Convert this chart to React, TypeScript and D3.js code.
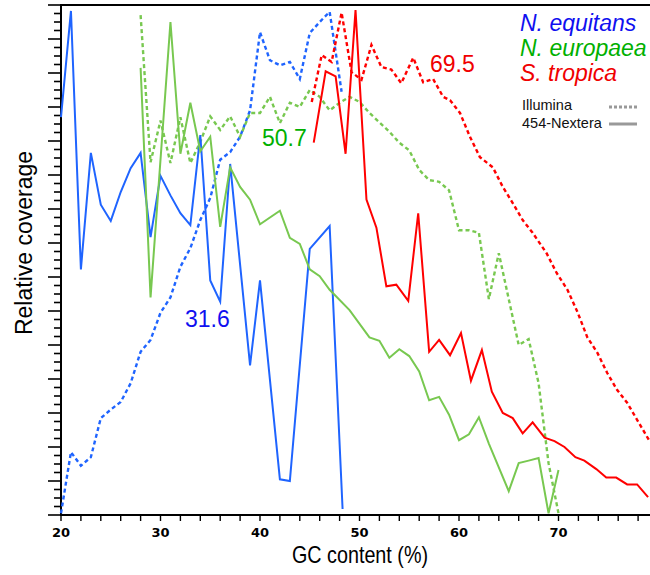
import React from "react";
import * as d3 from "d3";

// ---- data (x = GC content %, y = relative coverage, arbitrary units 0–60) ----
const eqNexGC = [20, 21, 22, 23, 24, 25, 26, 27, 28, 29, 30, 31, 32, 33, 34, 35, 36, 37, 39, 40, 42, 43, 45, 47, 48.3];
const eqNexCov = [46.8, 59.3, 28.9, 42.6, 36.5, 34.6, 38.0, 40.8, 42.6, 32.7, 39.9, 37.6, 35.5, 34.1, 44.7, 27.6, 25.1, 41.3, 17.6, 27.6, 4.2, 4.0, 31.3, 34.0, 0.7];

const eqIllGC = [20, 21, 22, 23, 24, 25, 26, 27, 28, 29, 30, 31, 32, 33, 34, 35, 36, 37, 38, 39, 40, 41, 42, 43, 44, 45, 46, 47, 48.2];
const eqIllCov = [0.2, 7.4, 5.8, 6.8, 11.4, 12.4, 13.3, 15.5, 19.2, 20.6, 23.8, 25.6, 29.2, 31.4, 34.7, 37.3, 41.8, 42.7, 44.5, 47.6, 56.8, 53.5, 52.9, 53.3, 51.3, 56.7, 58.0, 59.2, 49.8];

const euNexGC = [28, 29, 31, 32, 33, 34, 35, 36, 37, 38, 39, 40, 42, 43, 44, 45, 46, 47, 49, 51, 52, 53, 54, 55, 56, 57, 58, 59, 60, 61, 62, 63, 65, 66, 67, 68, 69, 70];
const euNexCov = [52.6, 25.6, 58.0, 42.5, 48.5, 42.8, 44.5, 33.9, 40.9, 38.6, 37.1, 34.2, 35.8, 32.6, 31.9, 28.9, 28.1, 26.5, 24.1, 20.9, 20.5, 18.5, 19.5, 18.7, 16.9, 13.5, 13.9, 11.8, 8.8, 9.5, 11.5, 8.4, 2.8, 6.1, 6.4, 6.7, 0.2, 5.3];

const euIllGC = [28, 29, 30, 31, 32, 33, 34, 35, 36, 37, 38, 39, 40, 41, 42, 43, 44, 45, 46, 47, 48, 49, 50, 51, 52, 53, 54, 55, 56, 57, 58, 59, 60, 61, 62, 63, 64, 66, 67, 68, 69, 70];
const euIllCov = [58.8, 41.5, 46.4, 41.4, 46.8, 41.4, 43.9, 46.9, 45.3, 46.9, 44.5, 47.3, 47.3, 49.2, 46.1, 48.5, 48.0, 50.0, 49.2, 47.6, 48.5, 49.2, 48.6, 47.3, 46.2, 45.1, 43.8, 42.9, 40.6, 39.4, 39.2, 38.2, 33.5, 33.5, 33.2, 25.4, 30.8, 20.0, 20.7, 15.5, 6.1, 0.2];

const trNexGC = [45.4, 46.6, 47.6, 48.6, 49.6, 50.7, 51.7, 52.7, 53.7, 54.9, 55.9, 57.0, 58.0, 59.1, 60.2, 61.2, 62.3, 63.3, 64.4, 65.4, 66.4, 67.4, 68.6, 69.6, 70.6, 71.7, 72.6, 73.8, 74.8, 75.8, 76.9, 77.9, 79.0];
const trNexCov = [43.8, 52.2, 51.6, 42.5, 59.4, 37.1, 33.8, 26.9, 27.1, 25.2, 35.5, 19.2, 20.6, 18.8, 21.4, 15.8, 19.4, 14.5, 12.0, 11.4, 9.6, 10.9, 9.1, 8.7, 8.0, 6.8, 6.4, 5.4, 4.4, 4.4, 3.6, 3.6, 2.1];

const trIllGC = [45.2, 46.2, 47.2, 48.2, 49.2, 50.2, 51.2, 52.2, 53.2, 54.2, 55.4, 56.4, 57.4, 58.4, 59.1, 60.1, 61.1, 62.1, 63.4, 64.4, 65.4, 66.4, 67.4, 68.8, 69.8, 70.9, 71.9, 72.9, 73.9, 74.9, 75.9, 76.9, 77.9, 79.1];
const trIllCov = [48.6, 54.1, 53.3, 59.1, 52.1, 51.2, 55.3, 52.7, 52.4, 50.8, 53.8, 50.9, 51.3, 49.2, 48.8, 47.3, 44.5, 42.1, 40.9, 38.6, 36.7, 34.7, 33.2, 30.8, 28.5, 26.5, 23.9, 20.9, 19.1, 16.7, 14.7, 13.2, 11.2, 8.8];

const xTickLabels = [20, 30, 40, 50, 60, 70];
const speciesNames = ["N. equitans", "N. europaea", "S. tropica"];
const platformNames = ["Illumina", "454-Nextera"];
const peakLabels = ["31.6", "50.7", "69.5"];

// ---- styling ----
const W = 650;
const H = 575;
const lineBlue = "#1f64ff";
const lineGreen = "#78c850";
const lineRed = "#ff0000";
const textColors = ["#1010f0", "#00b000", "#f00000"];

export default function App() {
  const x = d3.scaleLinear().domain([20, 80]).range([61, 658]);
  const y = d3.scaleLinear().domain([0, 60]).range([515, 5]);

  const mk = (gc: number[], cov: number[]) =>
    d3
      .line<number>()
      .x((_, i) => x(gc[i]))
      .y((d) => y(d))(cov) as string;

  const series = [
    { d: mk(eqIllGC, eqIllCov), c: lineBlue, dash: "4,3" },
    { d: mk(euIllGC, euIllCov), c: lineGreen, dash: "4,3" },
    { d: mk(trIllGC, trIllCov), c: lineRed, dash: "4,3" },
    { d: mk(eqNexGC, eqNexCov), c: lineBlue, dash: undefined },
    { d: mk(euNexGC, euNexCov), c: lineGreen, dash: undefined },
    { d: mk(trNexGC, trNexCov), c: lineRed, dash: undefined },
  ];

  const minorY = d3.range(0, 61, 1);
  const xMinor = d3.range(20, 80, 2);

  const labelX = [185, 262, 430];
  const labelY = [327, 146, 72];

  return (
    <svg
      width={W}
      height={H}
      style={{ position: "absolute", left: 0, top: 0, background: "#fff" }}
      fontFamily="'Liberation Sans', Arial, sans-serif"
    >
      <rect x={0} y={0} width={W} height={H} fill="#fff" />
      {/* frame */}
      <line x1={60} x2={W} y1={y(60)} y2={y(60)} stroke="#000" strokeWidth={2} />
      <line x1={x(20)} x2={x(20)} y1={y(60) - 1} y2={y(0)} stroke="#000" strokeWidth={2} />
      <line x1={x(20) - 1} x2={W} y1={y(0)} y2={y(0)} stroke="#000" strokeWidth={2} />
      {/* y ticks */}
      {minorY.map((v) => (
        <line
          key={"yt" + v}
          x1={x(20)}
          x2={x(20) - (v % 4 === 0 ? 13 : 7)}
          y1={y(v)}
          y2={y(v)}
          stroke="#000"
          strokeWidth={1.6}
        />
      ))}
      {/* x ticks */}
      {xMinor.map((v) => (
        <line key={"xt" + v} x1={x(v)} x2={x(v)} y1={y(0)} y2={y(0) + 6} stroke="#000" strokeWidth={1.4} />
      ))}
      {xTickLabels.map((v) => (
        <text
          key={"xl" + v}
          x={x(v)}
          y={537}
          textAnchor="middle"
          fontFamily="'DejaVu Sans', Verdana, sans-serif"
          fontWeight="bold"
          fontSize={13}
        >
          {v}
        </text>
      ))}
      <text x={360} y={563} textAnchor="middle" fontSize={24} textLength={136} lengthAdjust="spacingAndGlyphs">
        GC content (%)
      </text>
      <text transform={`translate(32,243) rotate(-90)`} textAnchor="middle" fontSize={23}>
        Relative coverage
      </text>

      {/* series */}
      {series.map((s, i) => (
        <path
          key={"s" + i}
          d={s.d}
          fill="none"
          stroke={s.c}
          strokeWidth={s.dash ? 2.4 : 2}
          strokeDasharray={s.dash}
        />
      ))}

      {/* peak labels */}
      {peakLabels.map((t, i) => (
        <text key={"pk" + i} x={labelX[i]} y={labelY[i]} fill={textColors[i]} fontSize={23}>
          {t}
        </text>
      ))}

      {/* legend */}
      {speciesNames.map((n, i) => (
        <text key={"sp" + i} x={520} y={31 + i * 25} fill={textColors[i]} fontSize={23} fontStyle="italic">
          {n}
        </text>
      ))}
      {platformNames.map((n, i) => (
        <g key={"pl" + i}>
          <text x={522} y={110 + i * 18} fontSize={14.5} fill="#111">
            {n}
          </text>
          <line
            x1={609}
            x2={637}
            y1={107 + i * 17}
            y2={107 + i * 17}
            stroke="#999"
            strokeWidth={3}
            strokeDasharray={i === 0 ? "3,2" : undefined}
          />
        </g>
      ))}
    </svg>
  );
}
